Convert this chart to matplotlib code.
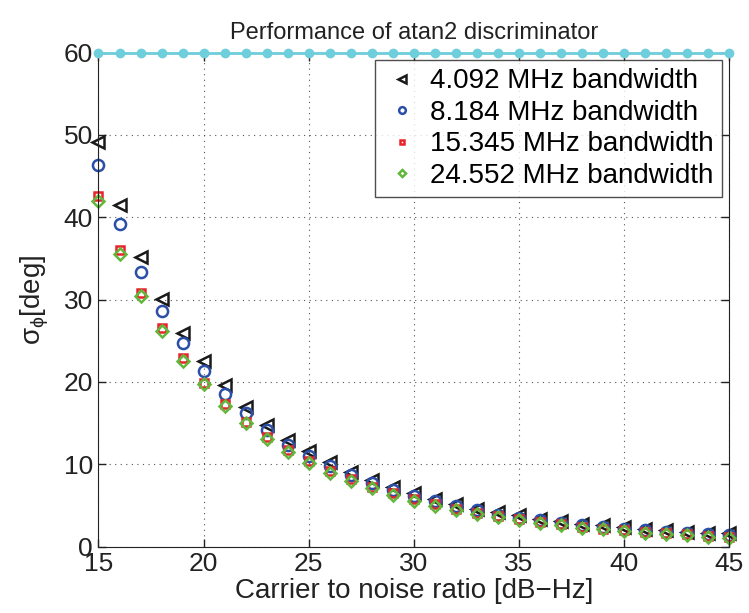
import matplotlib
matplotlib.use('Agg')
import matplotlib.pyplot as plt
import numpy as np

plt.rcParams['font.family'] = ['Liberation Sans', 'DejaVu Sans']
plt.rcParams['mathtext.fontset'] = 'custom'
plt.rcParams['mathtext.rm'] = 'Liberation Sans'
plt.rcParams['mathtext.it'] = 'Liberation Sans'

# Carrier to noise ratio [dB-Hz]
cn0 = np.arange(15, 46)

# sigma_phi [deg] per front-end bandwidth
bw_4092 = [49.2, 41.5, 35.2, 30.1, 26.0, 22.5, 19.6, 17.0, 14.8, 13.0, 11.6,
           10.3, 9.1, 8.1, 7.2, 6.5, 5.8, 5.2, 4.6, 4.2, 3.8, 3.4, 3.1, 2.8,
           2.6, 2.4, 2.2, 2.0, 1.8, 1.7, 1.6]
bw_8184 = [46.3, 39.2, 33.4, 28.6, 24.7, 21.3, 18.6, 16.2, 14.2, 12.4, 11.0,
           9.8, 8.7, 7.7, 6.9, 6.1, 5.5, 4.9, 4.4, 3.9, 3.5, 3.2, 2.9, 2.6,
           2.4, 2.2, 2.0, 1.8, 1.6, 1.5, 1.4]
bw_15345 = [42.6, 36.0, 30.8, 26.5, 22.9, 19.9, 17.3, 15.2, 13.3, 11.7, 10.4,
            9.2, 8.2, 7.3, 6.5, 5.8, 5.2, 4.6, 4.1, 3.7, 3.3, 3.0, 2.7, 2.4,
            2.2, 2.0, 1.8, 1.6, 1.5, 1.3, 1.2]
bw_24552 = [42.0, 35.6, 30.4, 26.2, 22.6, 19.7, 17.1, 15.0, 13.1, 11.5, 10.2,
            9.0, 8.0, 7.1, 6.3, 5.6, 5.0, 4.5, 4.0, 3.6, 3.2, 2.9, 2.6, 2.3,
            2.1, 1.9, 1.7, 1.5, 1.4, 1.2, 1.1]
# atan2 limit line
limit = [60] * len(cn0)

fig = plt.figure(figsize=(7.49, 6.13), dpi=100)
ax = fig.add_axes((0.1315, 0.1082, 0.8418, 0.806))

ax.plot(cn0, limit, '-o', color='#6ecedb', lw=2, ms=6, clip_on=False, zorder=5)

ax.plot(cn0, bw_4092, '<', mfc='none', mec='#1a1a1a', mew=1.8, ms=9,
        linestyle='none', label='4.092 MHz bandwidth', clip_on=False)
ax.plot(cn0, bw_8184, 'o', mfc='none', mec='#2b4fa8', mew=1.8, ms=8,
        linestyle='none', label='8.184 MHz bandwidth', clip_on=False)
ax.plot(cn0, bw_15345, 's', mfc='none', mec='#e8232b', mew=1.8, ms=6,
        linestyle='none', label='15.345 MHz bandwidth', clip_on=False)
ax.plot(cn0, bw_24552, 'D', mfc='none', mec='#62b83c', mew=1.8, ms=6,
        linestyle='none', label='24.552 MHz bandwidth', clip_on=False)

ax.set_xlim(15, 45)
ax.set_ylim(0, 60)
ax.set_xticks(range(15, 46, 5))
ax.set_yticks(range(0, 61, 10))
ax.tick_params(direction='in', length=6, labelsize=19, top=True, right=True,
               width=1, pad=4, colors='#222222')
ax.grid(True, linestyle=(0, (1, 4)), color='#555555', lw=0.8)
for s in ax.spines.values():
    s.set_color('#222222')

ax.set_title('Performance of atan2 discriminator', fontsize=17, pad=10,
             color='#222222')
ax.set_xlabel('Carrier to noise ratio [dB\u2212Hz]', fontsize=20, labelpad=1,
              color='#222222')
ax.set_ylabel(r'$\sigma_{\phi}$[deg]', fontsize=20, labelpad=9,
              color='#222222')

leg = ax.legend(loc='upper right', bbox_to_anchor=(0.989, 0.985), fontsize=20,
                frameon=True, fancybox=False, edgecolor='#222222',
                handlelength=1.4, handletextpad=0.3, borderpad=0.3,
                labelspacing=0.2, markerscale=0.6, borderaxespad=0)
leg.get_frame().set_linewidth(1.0)
leg.set_zorder(10)

fig.savefig('out.png', dpi=100, facecolor='white')
